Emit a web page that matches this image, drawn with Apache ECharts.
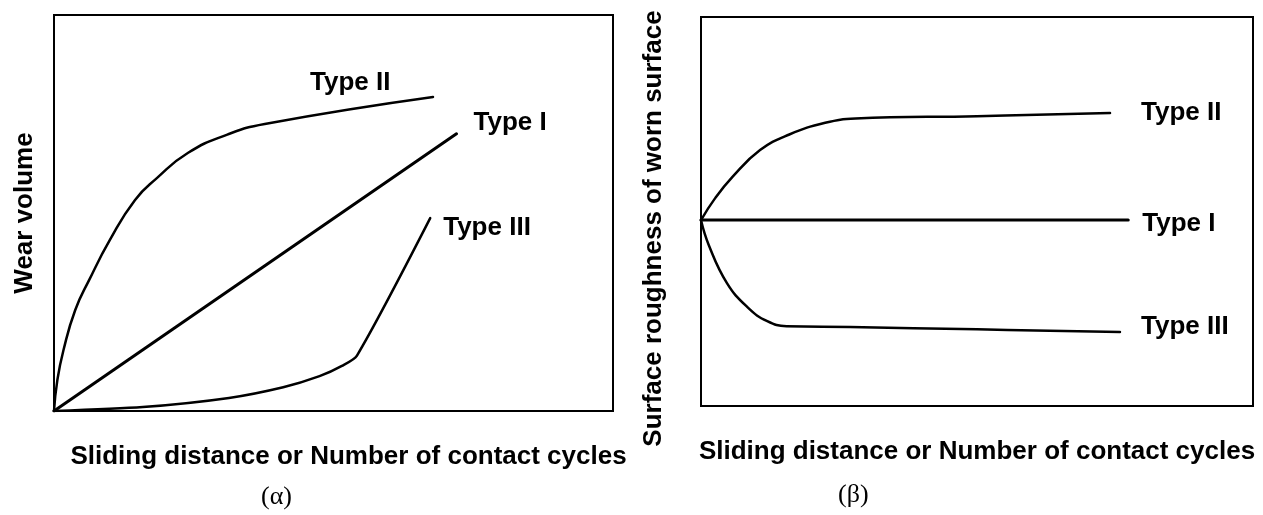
<!DOCTYPE html>
<html>
<head>
<meta charset="utf-8">
<title>Wear curves</title>
<script src="https://cdn.jsdelivr.net/npm/echarts@6/dist/echarts.min.js"></script>
<style>
  html, body { margin: 0; padding: 0; background: #fff; }
  #chart { width: 1263px; height: 515px; }
</style>
</head>
<body>
<div id="chart"></div>
<script>
// Series names shared by both panels
const typeNames = ['Type I', 'Type II', 'Type III'];

// Panel (α): wear volume vs sliding distance, [x, y] on a 0–100 scale
const wearType1 = [[0, 0], [72, 70]];
const wearType2 = [
  [0, 0], [0.6, 7.8], [1.7, 15.4], [3.8, 25.5], [6.3, 33.1],
  [10.0, 43.2], [14.5, 53.3], [18.4, 58.8], [24.0, 65.2],
  [31.0, 69.8], [37.7, 72.5], [67.8, 79.3]
];
const wearType3 = [
  [0, 0], [15.9, 1.0], [31.3, 3.3], [41.0, 6.0],
  [47.5, 8.8], [51.5, 11.4], [54.2, 14.0], [67.3, 48.7]
];

// Panel (β): surface roughness of worn surface vs sliding distance
const roughType1 = [[0, 47.8], [77.4, 47.8]];
const roughType2 = [
  [0, 47.8], [2.6, 53.5], [5.7, 58.9], [10.7, 65.8],
  [16.0, 69.8], [22.5, 72.8], [28.0, 73.9], [50.0, 74.5], [74.1, 75.3]
];
const roughType3 = [
  [0, 47.8], [1.4, 41.4], [4.7, 31.6], [8.5, 25.3],
  [12.0, 21.8], [15.5, 20.5], [27.0, 20.3], [50.0, 19.7], [75.9, 19.0]
];

const xTitle = 'Sliding distance or Number of contact cycles';
const yTitleWear = 'Wear volume';
const yTitleRough = 'Surface roughness of worn surface';
const panelTags = ['(α)', '(β)'];

const sansBold = {
  fontFamily: 'Liberation Sans, Arial, sans-serif',
  fontWeight: 'bold',
  fontSize: 26,
  color: '#000'
};

function valueAxis(gridIndex, extra) {
  return Object.assign({
    type: 'value',
    gridIndex: gridIndex,
    min: 0,
    max: 100,
    axisLine: { show: false },
    axisTick: { show: false },
    axisLabel: { show: false },
    splitLine: { show: false }
  }, extra);
}

function curve(name, data, axisIndex, width, smooth, labelOffset) {
  return {
    type: 'line',
    name: name,
    data: data,
    xAxisIndex: axisIndex,
    yAxisIndex: axisIndex,
    showSymbol: false,
    symbol: 'none',
    smooth: smooth,
    lineStyle: { color: '#000', width: width, join: 'round', cap: 'round' },
    endLabel: Object.assign({
      show: true,
      formatter: '{a}',
      distance: 0,
      offset: labelOffset
    }, sansBold),
    emphasis: { disabled: true },
    silent: true
  };
}

const chart = echarts.init(document.getElementById('chart'), null, { renderer: 'canvas' });

chart.setOption({
  backgroundColor: '#fff',
  animation: false,
  grid: [
    { left: 54, top: 15, width: 559, height: 396, show: true, borderColor: '#000', borderWidth: 2, backgroundColor: 'transparent' },
    { left: 701, top: 17, width: 552, height: 389, show: true, borderColor: '#000', borderWidth: 2, backgroundColor: 'transparent' }
  ],
  xAxis: [
    valueAxis(0, { name: xTitle, nameLocation: 'middle', nameGap: 33,
      nameTextStyle: Object.assign({ padding: [0, 0, 0, 30] }, sansBold) }),
    valueAxis(1, { name: xTitle, nameLocation: 'middle', nameGap: 33,
      nameTextStyle: Object.assign({}, sansBold) })
  ],
  yAxis: [
    valueAxis(0, { name: yTitleWear, nameLocation: 'middle', nameGap: 16,
      nameTextStyle: Object.assign({}, sansBold) }),
    valueAxis(1, { name: yTitleRough, nameLocation: 'middle', nameGap: 34,
      nameTextStyle: Object.assign({ padding: [0, 34, 0, 0] }, sansBold) })
  ],
  series: [
    curve(typeNames[1], wearType2, 0, 2.5, 0.5, [-123, -14]),
    curve(typeNames[0], wearType1, 0, 3, false, [17, -11]),
    curve(typeNames[2], wearType3, 0, 2.5, 0.25, [13, 10]),
    curve(typeNames[1], roughType2, 1, 2.5, 0.45, [31, 0]),
    curve(typeNames[0], roughType1, 1, 3, false, [14, 4]),
    curve(typeNames[2], roughType3, 1, 2.5, 0.45, [21, -5])
  ],
  graphic: [
    { type: 'text', left: 279 - 18, top: 484, style: { text: panelTags[0], font: '26px "Liberation Serif", serif', fill: '#000' } },
    { type: 'text', left: 856 - 18, top: 482, style: { text: panelTags[1], font: '26px "Liberation Serif", serif', fill: '#000' } }
  ]
});
</script>
</body>
</html>
